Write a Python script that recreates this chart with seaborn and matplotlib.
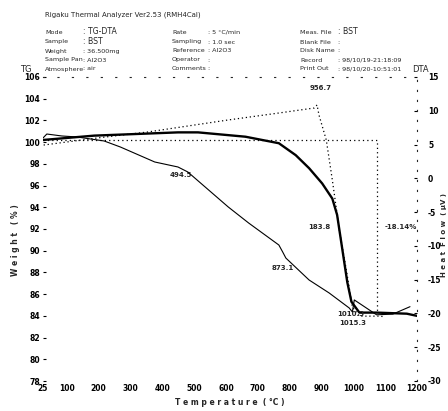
import matplotlib
matplotlib.use("Agg")
import matplotlib.pyplot as plt
import seaborn as sns
import pandas as pd

# ---- data ----
tg_temp = [25, 186, 449, 512, 661, 766, 819, 861, 902, 934, 949, 965, 981, 994, 1019, 1073, 1168, 1200]
tg_weight = [100.2, 100.6, 100.9, 100.9, 100.5, 99.9, 98.8, 97.6, 96.2, 94.8, 93.3, 90.2, 87.1, 85.3, 84.3, 84.3, 84.2, 84.0]

dta_temp = [25, 37, 84, 132, 217, 268, 376, 449, 480, 607, 671, 766, 778, 788, 861, 924, 987, 997, 1003, 1073, 1124, 1178]
dta_value = [5.97, 6.56, 6.27, 6.12, 5.53, 4.64, 2.42, 1.68, 0.94, -4.24, -6.61, -9.87, -10.9, -11.8, -15.05, -16.97, -19.19, -19.78, -18.0, -20.2, -20.1, -19.0]

ddta_temp = [27, 195, 354, 607, 766, 877, 886, 892, 915, 934, 956, 978, 997, 1019, 1083, 1100]
ddta_value = [4.93, 5.97, 6.86, 8.64, 9.67, 10.41, 10.86, 9.38, 5.67, -0.25, -7.65, -13.57, -19.04, -20.4, -20.4, -20.5]

step_temp = [25, 1073, 1073]
step_weight = [100.18, 100.18, 84.3]

x_ticks = [25, 100, 200, 300, 400, 500, 600, 700, 800, 900, 1000, 1100, 1200]
y_ticks = [78, 80, 82, 84, 86, 88, 90, 92, 94, 96, 98, 100, 102, 104, 106]
dta_ticks = [15, 10, 5, 0, -5, -10, -15, -20, -25, -30]

header_col1 = ["Mode", "Sample", "Weight", "Sample Pan", "Atmosphere"]
header_val1 = ["TG-DTA", "BST", "36.500mg", "Al2O3", "air"]
header_col2 = ["Rate", "Sampling", "Reference", "Operator", "Comments"]
header_val2 = ["5 \u00b0C/min", "1.0 sec", "Al2O3", "", ""]
header_col3 = ["Meas. File", "Blank File", "Disk Name", "Record", "Print Out"]
header_val3 = ["BST", "", "", "98/10/19-21:18:09", "98/10/20-10:51:01"]

ann_text = ["494.5", "873.1", "956.7", "183.8", "-18.14%", "1010.3", "1015.3"]
ann_temp = [458, 778, 896, 892, 1149, 991, 997]
ann_weight = [96.96, 88.4, 104.97, 92.17, 92.17, 84.16, 83.33]

# ---- figure ----
sns.set_theme(style="white")
plt.rcParams['font.family'] = ['DejaVu Sans']
fig = plt.figure(figsize=(4.48, 4.11), dpi=100)
ax = fig.add_axes([43/448, 1-381/411, (417-43)/448, (381-77)/411])
ax2 = ax.twinx()

tg_df = pd.DataFrame({"T": tg_temp, "W": tg_weight})
dta_df = pd.DataFrame({"T": dta_temp, "D": dta_value})
ddta_df = pd.DataFrame({"T": ddta_temp, "D": ddta_value})
step_df = pd.DataFrame({"T": step_temp, "W": step_weight})

sns.lineplot(data=tg_df, x="T", y="W", ax=ax, color="black", lw=1.7, sort=False, estimator=None)
sns.lineplot(data=step_df, x="T", y="W", ax=ax, color="black", lw=0.9, sort=False,
             estimator=None, linestyle=(0, (1, 2.5)))
sns.lineplot(data=dta_df, x="T", y="D", ax=ax2, color="black", lw=0.8, sort=False, estimator=None)
sns.lineplot(data=ddta_df, x="T", y="D", ax=ax2, color="black", lw=0.9, sort=False,
             estimator=None, linestyle=(0, (1, 2.2)))

ax.set_xlim(25, 1200)
ax.set_ylim(78, 106)
ax2.set_ylim(-30, 15)

fs = 5.5
ax.set_xticks(x_ticks)
ax.set_xticklabels([str(t) for t in x_ticks], fontsize=fs, fontweight="bold")
ax.set_yticks(y_ticks)
ax.set_yticklabels([str(t) for t in y_ticks], fontsize=fs, fontweight="bold")
ax2.set_yticks(dta_ticks)
ax2.set_yticklabels([str(t) for t in dta_ticks], fontsize=fs, fontweight="bold")
ax.tick_params(axis="both", direction="in", length=2, width=0.8, pad=2, colors="black")
ax2.tick_params(axis="y", direction="in", length=2, width=0.8, pad=8, colors="black")
ax.set_xlabel("T e m p e r a t u r e  ( \u00b0C )", fontsize=fs, fontweight="bold", labelpad=4)
ax.set_ylabel("")
ax2.set_ylabel("")

for a in (ax, ax2):
    for s in a.spines.values():
        s.set_visible(False)
ax.spines["top"].set_visible(True)
ax.spines["top"].set_linestyle((0, (1, 12)))
ax.spines["top"].set_linewidth(0.8)
ax2.spines["right"].set_visible(True)
ax2.spines["right"].set_linestyle((0, (1, 8)))
ax2.spines["right"].set_linewidth(0.8)

fig.text(15/448, 1-240/411, "W e i g h t   ( % )", rotation=90, fontsize=fs,
         fontweight="bold", ha="center", va="center")
fig.text(444/448, 1-235/411, "H e a t  F l o w  ( \u00b5V )", rotation=90, fontsize=fs - 0.5,
         fontweight="bold", ha="center", va="center")

# header
hs = 4.6
fig.text(45/448, 1-15/411, "Rigaku Thermal Analyzer Ver2.53 (RMH4Cal)", fontsize=hs + 0.4, va="center")
rows_y = [32, 42, 51, 60, 69]
for i, yy in enumerate(rows_y):
    fig.text(45/448, 1-yy/411, header_col1[i], fontsize=hs, va="center")
    fig.text(83/448, 1-yy/411, ": " + header_val1[i], fontsize=hs + 1.0 if i < 2 else hs, va="center")
    fig.text(172/448, 1-yy/411, header_col2[i], fontsize=hs, va="center")
    fig.text(208/448, 1-yy/411, ": " + header_val2[i], fontsize=hs, va="center")
    fig.text(300/448, 1-yy/411, header_col3[i], fontsize=hs, va="center")
    fig.text(338/448, 1-yy/411, ": " + header_val3[i], fontsize=hs + 1.0 if i == 0 else hs, va="center")
fig.text(20/448, 1-69/411, "TG", fontsize=fs + 0.5, va="center")
fig.text(412/448, 1-69/411, "DTA", fontsize=fs + 0.5, va="center")

# peak annotations
for txt, tx, ty in zip(ann_text, ann_temp, ann_weight):
    ax.text(tx, ty, txt, fontsize=fs - 0.5, fontweight="bold", ha="center", va="center",
            clip_on=False)

fig.savefig("out.png", dpi=100, facecolor="white")
